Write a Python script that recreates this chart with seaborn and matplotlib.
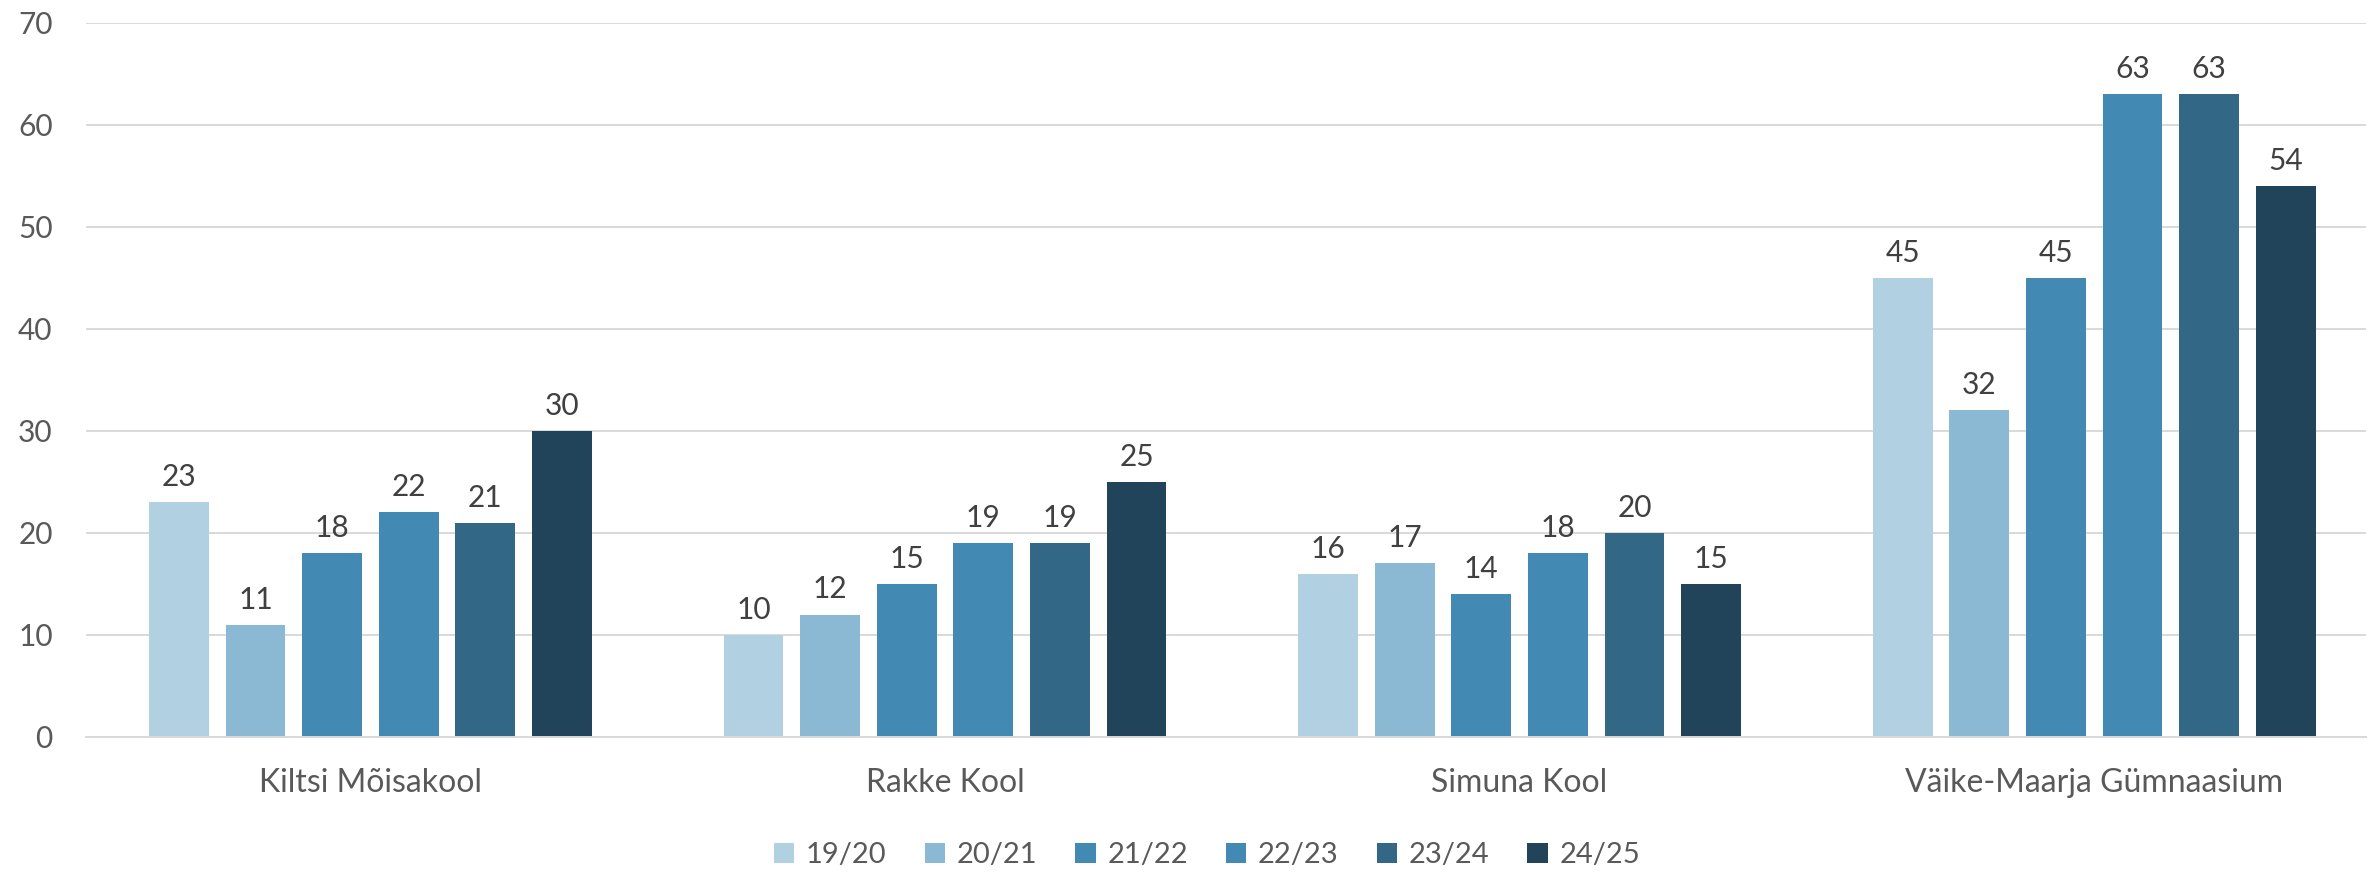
import pandas as pd
import matplotlib.pyplot as plt
import seaborn as sns

# Data
schools = ['Kiltsi Mõisakool', 'Rakke Kool', 'Simuna Kool', 'Väike-Maarja Gümnaasium']
years = ['19/20', '20/21', '21/22', '22/23', '23/24', '24/25']
v_19_20 = [23, 10, 16, 45]
v_20_21 = [11, 12, 17, 32]
v_21_22 = [18, 15, 14, 45]
v_22_23 = [22, 19, 18, 63]
v_23_24 = [21, 19, 20, 63]
v_24_25 = [30, 25, 15, 54]
colors = ['#B1D0E2', '#8BB9D3', '#428AB3', '#428AB3', '#326886', '#21445A']

rows = []
for year, vals in zip(years, [v_19_20, v_20_21, v_21_22, v_22_23, v_23_24, v_24_25]):
    for school, v in zip(schools, vals):
        rows.append({'school': school, 'year': year, 'value': v})
df = pd.DataFrame(rows)

sns.set_style('white')
plt.rcParams['font.family'] = ['Lato', 'DejaVu Sans']

fig = plt.figure(figsize=(23.69, 8.73), dpi=100)
ax = fig.add_axes([86 / 2369, 1 - 737 / 873, (2366 - 86) / 2369, (737 - 22.5) / 873])

sns.barplot(data=df, x='school', y='value', hue='year', order=schools, hue_order=years,
            palette=colors, width=0.8, gap=0.22, ax=ax, errorbar=None, saturation=1,
            edgecolor='none')

for cont in ax.containers:
    ax.bar_label(cont, padding=8, fontsize=21.5, color='#404040')

ax.set_ylim(0, 70)
ax.set_yticks(range(0, 71, 10))
ax.set_xlim(-0.495, 3.473)
ax.yaxis.grid(True, color='#D9D9D9', linewidth=1.4)
ax.set_axisbelow(True)
for s in ['top', 'right', 'left']:
    ax.spines[s].set_visible(False)
ax.spines['bottom'].set_color('#D9D9D9')
ax.spines['bottom'].set_linewidth(1.4)
ax.tick_params(axis='both', length=0, labelsize=21.5, labelcolor='#595959')
ax.tick_params(axis='y', pad=24)
ax.tick_params(axis='x', pad=22, labelsize=23)
ax.set_xlabel('')
ax.set_ylabel('')

ax.legend(loc='center', bbox_to_anchor=(1207 / 2369, 1 - 855 / 873), bbox_transform=fig.transFigure,
          ncol=6, frameon=False, fontsize=21, handlelength=0.7, handleheight=0.7,
          handletextpad=0.4, columnspacing=1.3, labelcolor='#595959')

plt.savefig('out.png', dpi=100)
